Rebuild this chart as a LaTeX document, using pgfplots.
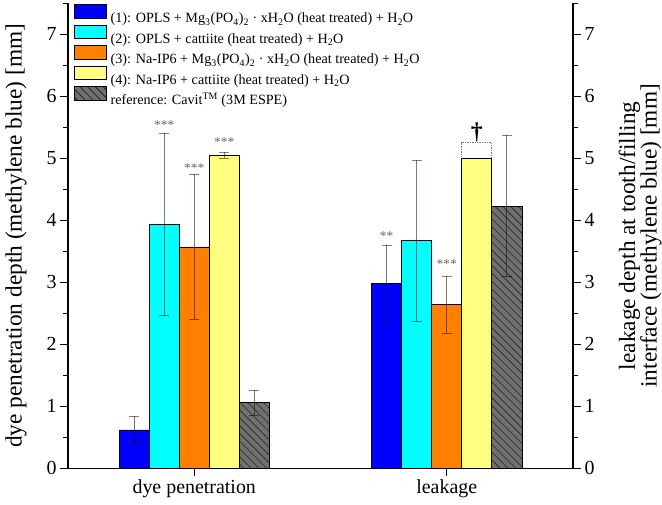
\documentclass[border=0pt]{standalone}
\usepackage{pgfplots}
\pgfplotsset{compat=1.18}
\usepackage{fontspec}
\setmainfont{Liberation Serif}
\usetikzlibrary{patterns.meta}

\definecolor{cBlue}{RGB}{0,0,255}
\definecolor{cCyan}{RGB}{0,255,255}
\definecolor{cOrange}{RGB}{255,128,0}
\definecolor{cYellow}{RGB}{255,255,128}
\definecolor{cGray}{RGB}{112,112,112}

\tikzset{
  hatch/.style={fill=cGray,
    postaction={pattern={Lines[angle=-45,distance=5.5bp,line width=0.6bp]}, pattern color=black!85}},
}
% Bars are placed at their own x positions (category +- k*0.119),
% so that the error bars sit on the bars.
\pgfplotsset{
  errs/.style={
    error bars/.cd, y dir=both, y explicit,
    error bar style={draw=black, draw opacity=0.5, line width=0.7bp, solid},
    error mark options={rotate=90, draw=black, draw opacity=0.5, line width=0.7bp, mark size=5bp, solid}},
  bars/.style={ybar, bar width=0.119, bar shift=0, draw=black, line width=0.7bp},
  lgd/.style={legend image code/.code={\draw[black, line width=0.7bp, #1] (0bp,-0.3bp) rectangle (32bp,13.1bp);}},
}

\begin{document}
\begin{tikzpicture}
\begin{axis}[
  name=main,
  scale only axis, width=505bp, height=465bp,
  xmin=0.5, xmax=2.5, ymin=0, ymax=7.5,
  axis x line*=bottom, axis y line*=left,
  axis line style={line width=1.1bp, -},
  xtick={1,2}, xticklabels={dye penetration, leakage},
  ytick={0,1,...,7}, minor ytick={0.5,1.5,...,7.5},
  tick align=outside, major tick length=8bp, minor tick length=4.5bp,
  tick style={black, line width=1bp},
  ticklabel style={font=\fontsize{20}{20}\selectfont},
  /pgf/number format/assume math mode=true,
  ylabel={dye penetration depth (methylene blue) [mm]},
  ylabel style={font=\fontsize{23.4}{22}\selectfont, at={(axis description cs:-0.103,0.5)}, anchor=center},
  legend cell align=left,
  legend style={at={(axis description cs:0,1)}, anchor=north west, xshift=6bp, yshift=-1.1bp,
    draw=none, fill=none, inner sep=0pt, outer sep=0pt, column sep=4bp, row sep=-3.5bp,
    font=\fontsize{14.2}{17}\selectfont,
    nodes={inner sep=0pt, text height=15.6bp, text depth=5.5bp}},
]
% (1) OPLS + Mg3(PO4)2 . xH2O
\addplot[bars, fill=cBlue, lgd={fill=cBlue}, errs]
  coordinates {(0.762,0.62) +- (0,0.22) (1.762,2.98) +- (0,0.62)};
\addlegendentry{(1): OPLS + Mg\textsubscript{3}(PO\textsubscript{4})\textsubscript{2} · xH\textsubscript{2}O (heat treated) + H\textsubscript{2}O}
% (2) OPLS + cattiite
\addplot[bars, fill=cCyan, lgd={fill=cCyan}, errs]
  coordinates {(0.881,3.94) +- (0,1.47) (1.881,3.67) +- (0,1.30)};
\addlegendentry{(2): OPLS + cattiite (heat treated) + H\textsubscript{2}O}
% (3) Na-IP6 + Mg3(PO4)2 . xH2O
\addplot[bars, fill=cOrange, lgd={fill=cOrange}, errs]
  coordinates {(1.000,3.57) +- (0,1.17) (2.000,2.64) +- (0,0.46)};
\addlegendentry{(3): Na-IP6 + Mg\textsubscript{3}(PO\textsubscript{4})\textsubscript{2} · xH\textsubscript{2}O (heat treated) + H\textsubscript{2}O}
% dotted outline above the leakage bar of (4)
\addplot[forget plot, bars, draw=gray, densely dotted, fill=none]
  coordinates {(2.119,5.25)};
% (4) Na-IP6 + cattiite (no error bar for leakage)
\addplot[bars, fill=cYellow, lgd={fill=cYellow}]
  coordinates {(1.119,5.05) (2.119,5.00)};
\addlegendentry{(4): Na-IP6 + cattiite (heat treated) + H\textsubscript{2}O}
\addplot[forget plot, bars, draw=none, fill=none, errs]
  coordinates {(1.119,5.05) +- (0,0.05)};
% reference material
\addplot[bars, hatch, lgd={hatch}, errs]
  coordinates {(1.238,1.06) +- (0,0.20) (2.238,4.23) +- (0,1.14)};
\addlegendentry{reference: Cavit\textsuperscript{TM} (3M ESPE)}

% significance marks
\begin{scope}[every node/.style={text=black!60, font=\fontsize{13.5}{13.5}\selectfont, anchor=center, yshift=-2bp}]
\node at (axis cs:0.881,5.56) {***};
\node at (axis cs:1.000,4.87) {***};
\node at (axis cs:1.119,5.30) {***};
\node at (axis cs:1.762,3.77) {**};
\node at (axis cs:2.000,3.32) {***};
\end{scope}
\node[font=\fontsize{24}{24}\selectfont\bfseries, anchor=base, inner sep=0pt] at (axis cs:2.119,5.30) {†};
\end{axis}

\begin{axis}[
  scale only axis, width=505bp, height=465bp,
  xmin=0.5, xmax=2.5, ymin=0, ymax=7.5,
  axis x line=none, axis y line*=right,
  axis line style={line width=1.1bp, -},
  ytick={0,1,...,7}, minor ytick={0.5,1.5,...,7.5},
  tick align=outside, major tick length=8bp, minor tick length=4.5bp,
  tick style={black, line width=1bp},
  ticklabel style={font=\fontsize{20}{20}\selectfont},
  /pgf/number format/assume math mode=true,
  ylabel={leakage depth at tooth/filling\\interface (methylene blue) [mm]},
  ylabel style={font=\fontsize{23.4}{21.7}\selectfont, align=center, at={(axis description cs:1.133,0.5)}, anchor=center},
]
\end{axis}

\pgfresetboundingbox
\path[use as bounding box] ([xshift=-68bp,yshift=-36.5bp]main.south west) rectangle ([xshift=89bp,yshift=3.3bp]main.north east);
\end{tikzpicture}
\end{document}
